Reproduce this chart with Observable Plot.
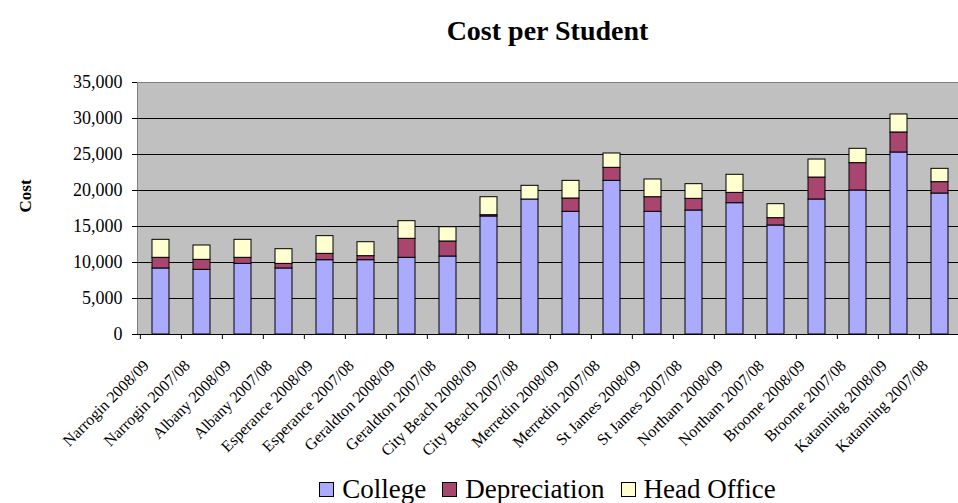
<!DOCTYPE html>
<html><head><meta charset="utf-8">
<script src="https://cdn.jsdelivr.net/npm/d3@7"></script>
<script src="https://cdn.jsdelivr.net/npm/@observablehq/plot@0.6"></script>
<style>
html,body{margin:0;padding:0;background:#fff;overflow:hidden;width:958px;height:503px;}
#wrap{width:966px;font-family:'Liberation Serif','Times New Roman',serif;color:#000;}
#title{height:60px;box-sizing:border-box;padding-top:17px;padding-left:137px;width:958px;text-align:center;font-weight:bold;font-size:28px;line-height:27px;font-family:'Liberation Serif',serif;}
#chart svg{display:block;max-width:none !important;}
#legend{height:33px;box-sizing:border-box;padding-top:6px;padding-left:137px;width:958px;text-align:center;font-size:27px;line-height:26px;white-space:nowrap;font-family:'Liberation Serif',serif;}
.sw{display:inline-block;width:13px;height:13px;border:1px solid #000;vertical-align:1px;margin-right:8px;}
.it{display:inline;}
.it + .it{margin-left:16px;}
</style>
</head><body>
<div id="wrap">
<div id="title">Cost per Student</div>
<div id="chart"></div>
<div id="legend"></div>
</div>
<script>
const categories = ["Narrogin 2008/09","Narrogin 2007/08","Albany 2008/09","Albany 2007/08","Esperance 2008/09","Esperance 2007/08","Geraldton 2008/09","Geraldton 2007/08","City Beach 2008/09","City Beach 2007/08","Merredin 2008/09","Merredin 2007/08","St James 2008/09","St James 2007/08","Northam 2008/09","Northam 2007/08","Broome 2008/09","Broome 2007/08","Katanning 2008/09","Katanning 2007/08"];
const college      = [9170, 8980, 9810, 9170, 10320, 10320, 10650, 10830, 16390, 18750, 17040, 21340, 17040, 17220, 18240, 15140, 18750, 20000, 25280, 19580];
const depreciation = [1480, 1390,  840,  640,   880,   560,  2640,  2090,   180,     0,  1850,  1810,  2030,  1620,  1430,  1020,  3050,  3800,  2780,  1580];
const headOffice   = [2500, 1990, 2500, 2040,  2460,  1940,  2450,  1980,  2500,  1900,  2450,  1990,  2460,  2040,  2510,  1940,  2500,  1990,  2500,  1850];
const seriesNames = ["College", "Depreciation", "Head Office"];
const seriesColors = ["#aaaaff", "#a9466f", "#ffffd0"];
const yTicks = [0, 5000, 10000, 15000, 20000, 25000, 30000, 35000];
const gridTicks = [5000, 10000, 15000, 20000, 25000, 30000];

const seriesValues = [college, depreciation, headOffice];
const data = [];
categories.forEach((c, i) => {
  seriesNames.forEach((s, k) => data.push({cat: c, series: s, value: seriesValues[k][i]}));
});

const W = 966, ML = 137, MR = 3;
const bw = (W - ML - MR) / categories.length;
const serif = "'Liberation Serif', 'Times New Roman', serif";

const chart = Plot.plot({
  width: W, height: 410,
  marginTop: 22, marginBottom: 136, marginLeft: ML, marginRight: MR,
  x: {domain: categories, paddingInner: 0.59, paddingOuter: 0.295, axis: null},
  y: {domain: [0, 35000], axis: null},
  color: {domain: seriesNames, range: seriesColors},
  style: {fontFamily: serif, fontSize: "16px", color: "black", background: "white"},
  marks: [
    Plot.frame({fill: "#c0c0c0", stroke: "#808080"}),
    Plot.gridY({ticks: gridTicks, stroke: "black", strokeOpacity: 1}),
    Plot.barY(data, {x: "cat", y: "value", fill: "series", stroke: "black", strokeWidth: 1}),
    Plot.ruleY([0], {stroke: "black"}),
    Plot.axisY({ticks: yTicks, tickFormat: d3.format(","), tickSize: 5, tickPadding: 10, fontSize: 18, fontFamily: serif, label: null}),
    Plot.axisX({tickSize: 5, tickFormat: () => "", dx: -bw / 2, label: null}),
    Plot.text(categories, {x: d => d, frameAnchor: "bottom", rotate: -45, textAnchor: "end", lineAnchor: "bottom", dx: -11, dy: 32, fontSize: 16, fontFamily: serif}),
    Plot.text(["Cost"], {frameAnchor: "left", dx: -112, dy: 4, rotate: -90, fontWeight: "bold", fontSize: 17, fontFamily: serif})
  ]
});
chart.style.maxWidth = "none";
document.getElementById("chart").appendChild(chart);

const lg = document.getElementById("legend");
seriesNames.forEach((s, k) => {
  const it = document.createElement("span");
  it.className = "it";
  const sw = document.createElement("span");
  sw.className = "sw";
  sw.style.background = seriesColors[k];
  it.appendChild(sw);
  it.appendChild(document.createTextNode(s));
  lg.appendChild(it);
});
</script>
</body></html>
